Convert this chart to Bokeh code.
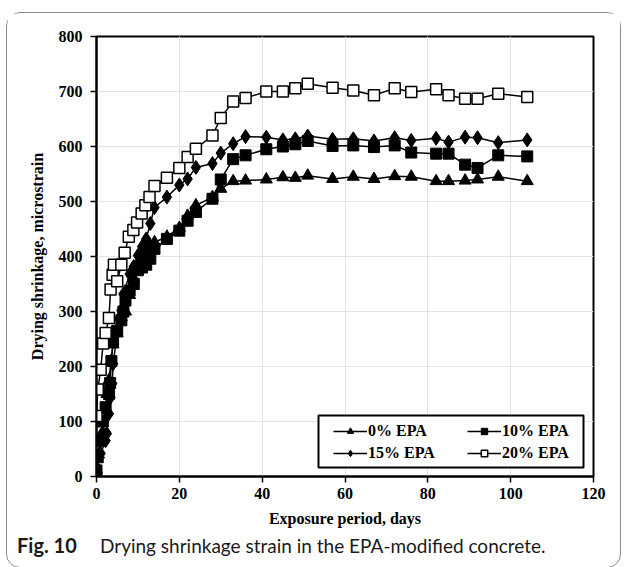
from bokeh.plotting import figure
from bokeh.layouts import column
from bokeh.models import Legend, LegendItem, FixedTicker, BoxAnnotation, Div
from bokeh.embed import file_html
from bokeh.resources import INLINE

# Drying shrinkage (microstrain) vs exposure period (days)
days_0 = [0, 0.5, 1, 1.5, 2, 2.5, 3, 3.5, 4, 5, 6, 7, 8, 9, 10, 11, 12, 13, 14, 17, 20, 22, 24, 28, 30,
          33, 36, 41, 45, 48, 51, 57, 62, 67, 72, 76, 82, 85, 89, 92, 97, 104]
epa_0 = [12, 40, 75, 80, 120, 150, 175, 210, 240, 260, 290, 300, 330, 360, 385, 400, 410, 420, 426, 436, 452,
         474, 493, 508, 523, 537, 538, 540, 544, 543, 547, 541, 545, 541, 546, 545, 537, 537, 538, 540, 545, 537]

days_10 = [0, 0.3, 1, 1.5, 2.2, 3, 3.3, 3.6, 4, 5, 6, 6.5, 7, 8, 9, 10, 11, 12, 13, 14, 17, 20, 22, 24, 28,
           30, 33, 36, 41, 45, 48, 51, 57, 62, 67, 72, 76, 82, 85, 89, 92, 97, 104]
epa_10 = [11, 35, 65, 100, 126, 150, 170, 210, 247, 265, 284, 300, 320, 338, 350, 375, 380, 385, 396, 414, 432,
          447, 465, 481, 505, 540, 577, 584, 595, 600, 604, 610, 601, 602, 599, 602, 589, 587, 587, 567, 561,
          584, 582]

days_15 = [0, 1, 2.2, 2.5, 3, 3.4, 3.8, 4, 5.5, 6, 6.5, 8, 9, 10, 11, 12, 13, 14, 17, 20, 22, 24, 28, 30, 33,
           36, 41, 45, 48, 51, 57, 62, 67, 72, 76, 82, 85, 89, 92, 97, 104]
epa_15 = [17, 42, 65, 78, 114, 144, 169, 205, 287, 302, 332, 368, 382, 402, 418, 432, 460, 489, 508, 530, 541,
          562, 569, 588, 605, 618, 617, 612, 614, 619, 613, 614, 610, 616, 611, 615, 608, 617, 616, 607, 612]

days_20 = [0, 0.3, 1, 1.6, 2.2, 3, 3.4, 3.9, 4.2, 5, 6, 6.8, 7.8, 8.9, 9.8, 10.9, 11.8, 12.8, 14, 17, 20, 22,
           24, 28, 30, 33, 36, 41, 45, 48, 51, 57, 62, 67, 72, 76, 82, 85, 89, 92, 97, 104]
epa_20 = [110, 158, 194, 242, 261, 288, 340, 367, 385, 355, 385, 407, 436, 448, 462, 478, 493, 508, 528, 543,
          561, 581, 596, 620, 652, 682, 688, 700, 700, 706, 714, 707, 702, 693, 706, 699, 704, 693, 687, 687,
          696, 690]

x_ticks = [0, 20, 40, 60, 80, 100, 120]
y_ticks = [0, 100, 200, 300, 400, 500, 600, 700, 800]

SERIF = "Liberation Serif"

p = figure(width=613, height=520, x_range=(0, 120), y_range=(0, 800),
           output_backend="svg", toolbar_location=None,
           min_border_left=89, min_border_right=27, min_border_top=23, min_border_bottom=57)
p.margin = 0

p.outline_line_color = "black"
p.outline_line_width = 2
p.background_fill_color = "white"
p.border_fill_color = "white"

for ax in (p.xaxis[0], p.yaxis[0]):
    ax.axis_line_width = 2
    ax.axis_line_color = "black"
    ax.major_tick_line_color = "black"
    ax.major_tick_line_width = 1.5
    ax.major_tick_out = 6
    ax.major_tick_in = 0
    ax.minor_tick_line_color = None
    ax.major_label_text_font = SERIF
    ax.major_label_text_font_style = "bold"
    ax.major_label_text_font_size = "16px"
    ax.major_label_text_color = "black"
    ax.axis_label_text_font = SERIF
    ax.axis_label_text_font_style = "bold"
    ax.axis_label_text_font_size = "16px"
    ax.axis_label_text_color = "black"

p.xaxis.ticker = FixedTicker(ticks=x_ticks)
p.yaxis.ticker = FixedTicker(ticks=y_ticks)
p.xaxis.axis_label = "Exposure period, days"
p.yaxis.axis_label = "Drying shrinkage, microstrain"
p.xaxis.major_label_standoff = 5
p.yaxis.major_label_standoff = 8
p.xaxis.axis_label_standoff = 8
p.yaxis.axis_label_standoff = 10

p.xgrid.grid_line_color = "#e3e3e3"
p.ygrid.grid_line_color = "#e3e3e3"
p.xgrid.grid_line_width = 1
p.ygrid.grid_line_width = 1

LW = 1.5

l0 = p.line(days_0, epa_0, line_color="black", line_width=LW)
m0 = p.scatter(days_0, epa_0, marker="triangle", size=12, fill_color="black", line_color="black")

l10 = p.line(days_10, epa_10, line_color="black", line_width=LW)
m10 = p.scatter(days_10, epa_10, marker="square", size=11, fill_color="black", line_color="black")

l15 = p.line(days_15, epa_15, line_color="black", line_width=LW)
m15 = p.scatter(days_15, epa_15, marker="diamond", size=14, fill_color="black", line_color="black")

l20 = p.line(days_20, epa_20, line_color="black", line_width=LW)
m20 = p.scatter(days_20, epa_20, marker="square", size=11, fill_color="white", line_color="black",
                line_width=1.5)

# framed white box behind the legend entries
legend_box = BoxAnnotation(left=222, right=487, bottom=9, top=61,
                           left_units="screen", right_units="screen",
                           bottom_units="screen", top_units="screen",
                           fill_color="white", fill_alpha=1,
                           line_color="black", line_width=2, line_alpha=1)
p.add_layout(legend_box)

legend = Legend(items=[
    LegendItem(label="0% EPA", renderers=[l0, m0]),
    LegendItem(label="15% EPA", renderers=[l15, m15]),
    LegendItem(label="10% EPA", renderers=[l10, m10]),
    LegendItem(label="20% EPA", renderers=[l20, m20]),
], location=(237, 14), ncols=2)
legend.label_text_font = SERIF
legend.label_text_font_style = "bold"
legend.label_text_font_size = "16px"
legend.label_text_color = "black"
legend.glyph_width = 34
legend.glyph_height = 16
legend.label_standoff = 1
legend.label_width = 95
legend.spacing = 4
legend.padding = 7
legend.margin = 0
legend.border_line_color = None
legend.background_fill_alpha = 0
p.add_layout(legend, "center")

caption = Div(text=("<span style='display:inline-block;width:83px;font-weight:bold;font-size:20px'>"
                    "Fig.&nbsp;10</span>Drying shrinkage strain in the EPA-modified concrete."),
              width=613, height=34,
              styles={"font-family": "Lato", "font-size": "19px", "color": "#1a1a1a",
                      "padding-left": "10px", "line-height": "24px", "white-space": "nowrap"})
caption.margin = 0

page = column(p, caption, spacing=0)
page.margin = (12, 0, 0, 6)
page.styles = {"border": "1px solid #8a8a8a", "border-radius": "14px", "background": "white"}

open("out.html", "w").write(file_html(page, INLINE))
